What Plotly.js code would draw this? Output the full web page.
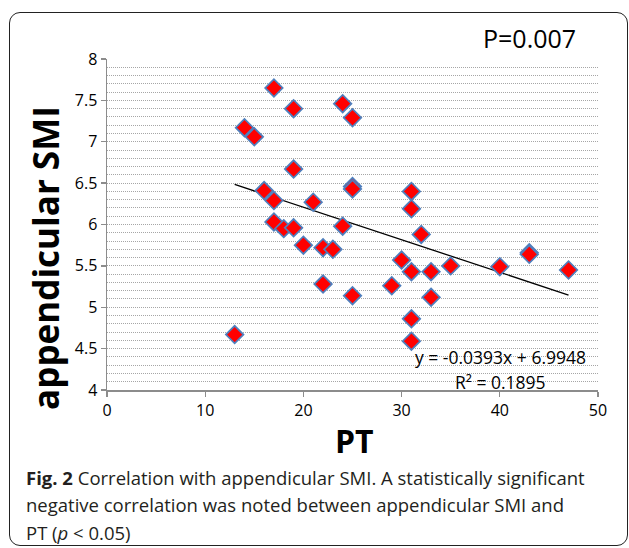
<!DOCTYPE html>
<html>
<head>
<meta charset="utf-8">
<script src="https://cdn.plot.ly/plotly-3.0.1.min.js"></script>
<style>
  html, body { margin: 0; padding: 0; background: #ffffff; }
  #wrap { position: relative; width: 629px; height: 548px; overflow: hidden; }
  #frame { position: absolute; left: 9px; top: 12px; width: 617px; height: 532px;
           border: 1.5px solid #222; border-radius: 11px; pointer-events: none; }
  #chart { position: absolute; left: 0; top: 0; width: 629px; height: 548px; }
</style>
</head>
<body>
<div id="wrap">
  <div id="frame"></div>
  <div id="chart"></div>
</div>
<script>
// PT values (x) and appendicular SMI values (y)
const ptValues = [13, 14, 15, 16, 17, 17, 17, 18, 19, 19, 19, 20, 21, 22, 22, 23, 24, 24, 25, 25, 25, 25,
                  29, 30, 31, 31, 31, 31, 31, 32, 33, 33, 35, 40, 43, 43, 47];
const smiValues = [4.67, 7.17, 7.06, 6.41, 7.65, 6.29, 6.03, 5.95, 7.40, 6.67, 5.96, 5.75, 6.27, 5.72, 5.28, 5.70, 7.46, 5.98, 7.29, 6.46, 6.43, 5.14,
                   5.26, 5.57, 6.40, 6.19, 5.43, 4.86, 4.59, 5.88, 5.43, 5.12, 5.50, 5.49, 5.66, 5.64, 5.45];

// Linear trendline coefficients as printed on the chart
const trendSlope = -0.0393;
const trendIntercept = 6.9948;
const equationText = "y = -0.0393x + 6.9948";
const r2Text = "R² = 0.1895";
const pText = "P=0.007";

const xTickVals = [0, 10, 20, 30, 40, 50];
const yTickVals = [4, 4.5, 5, 5.5, 6, 6.5, 7, 7.5, 8];
const yTickText = ["4", "4.5", "5", "5.5", "6", "6.5", "7", "7.5", "8"];

const xTitle = "PT";
const yTitle = "appendicular SMI";
const captionLines = [
  "<b>Fig. 2</b> Correlation with appendicular SMI. A statistically significant",
  "negative correlation was noted between appendicular SMI and",
  "PT (<i>p</i> &lt; 0.05)"
];

const xMin = Math.min(...ptValues);
const xMax = Math.max(...ptValues);
const trendX = [xMin, xMax];
const trendY = trendX.map(v => trendSlope * v + trendIntercept);

const FONT = '"Open Sans", "DejaVu Sans", sans-serif';

const traces = [
  {
    type: 'scatter', mode: 'lines', x: trendX, y: trendY,
    line: { color: '#000000', width: 1.3 }, hoverinfo: 'skip', showlegend: false
  },
  {
    type: 'scatter', mode: 'markers', x: ptValues, y: smiValues,
    marker: { symbol: 'diamond', size: 13.5, color: '#ff0000',
              line: { color: '#4f7fbd', width: 1.7 } },
    showlegend: false
  }
];

// paper coordinate helpers (plot area: x 107..598, y 59..390 px)
const L = 107, R = 598, T = 59.3, B = 390;
const px = v => (v - L) / (R - L);
const py = v => (B - v) / (B - T);

const annotations = [
  { text: pText, x: px(529), y: py(38), xref: 'paper', yref: 'paper', showarrow: false,
    xanchor: 'center', yanchor: 'middle', font: { family: FONT, size: 25, color: '#000' } },
  { text: equationText, x: px(500), y: py(357), xref: 'paper', yref: 'paper', showarrow: false,
    xanchor: 'center', yanchor: 'middle', font: { family: FONT, size: 17.5, color: '#000' } },
  { text: r2Text, x: px(500), y: py(382), xref: 'paper', yref: 'paper', showarrow: false,
    xanchor: 'center', yanchor: 'middle', font: { family: FONT, size: 17.5, color: '#000' } },
  { text: yTitle, x: px(46), y: py(258), xref: 'paper', yref: 'paper', showarrow: false,
    textangle: -90, xanchor: 'center', yanchor: 'middle',
    font: { family: FONT, size: 35, color: '#000', weight: 700 } },
  { text: xTitle, x: px(354), y: py(440), xref: 'paper', yref: 'paper', showarrow: false,
    xanchor: 'center', yanchor: 'middle',
    font: { family: FONT, size: 32, color: '#000', weight: 700 } }
];
const capY = [477, 504, 532];
captionLines.forEach((t, i) => {
  annotations.push({ text: t, x: px(24), y: py(capY[i]), xref: 'paper', yref: 'paper',
    showarrow: false, xanchor: 'left', yanchor: 'middle', align: 'left',
    font: { family: FONT, size: 18.5, color: '#231f20' } });
});

const layout = {
  width: 629, height: 548,
  margin: { l: L, r: 629 - R, t: T, b: 548 - B, pad: 0 },
  paper_bgcolor: 'rgba(0,0,0,0)', plot_bgcolor: 'rgba(0,0,0,0)',
  showlegend: false,
  xaxis: {
    range: [0, 50], tickvals: xTickVals, ticks: 'outside', ticklen: 5, tickwidth: 1.3,
    tickcolor: '#8c8c8c', showline: true, linecolor: '#8c8c8c', linewidth: 1.5,
    showgrid: false, zeroline: false,
    tickfont: { family: FONT, size: 16, color: '#000' }
  },
  yaxis: {
    range: [4, 8], tickvals: yTickVals, ticktext: yTickText, ticks: 'outside', ticklen: 5, tickwidth: 1.3,
    tickcolor: '#8c8c8c', showline: true, linecolor: '#8c8c8c', linewidth: 1.5,
    showgrid: true, gridcolor: '#a6a6a6', griddash: '1px,1px', gridwidth: 1,
    zeroline: false,
    minor: { dtick: 0.1, showgrid: true, gridcolor: '#a6a6a6', griddash: '1px,1px', gridwidth: 1, ticks: '' },
    tickfont: { family: FONT, size: 16, color: '#000' }
  },
  annotations: annotations
};

Plotly.newPlot('chart', traces, layout, { displayModeBar: false, staticPlot: true });
</script>
</body>
</html>
